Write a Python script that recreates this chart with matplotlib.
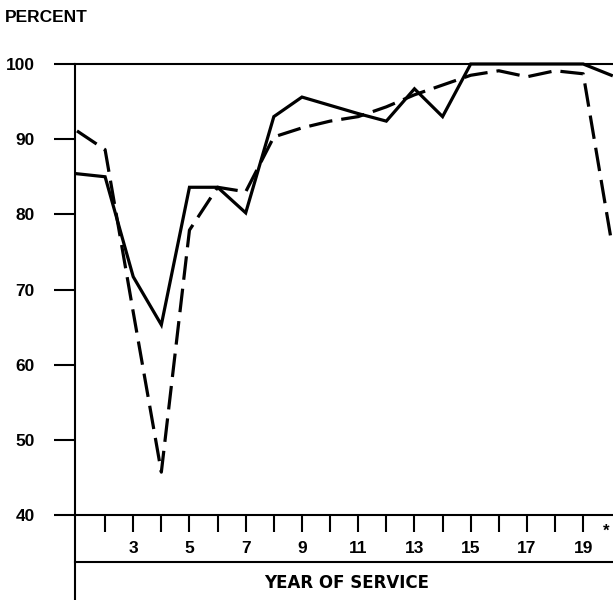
import matplotlib
matplotlib.use("Agg")
import matplotlib.pyplot as plt
from matplotlib.lines import Line2D

plt.rcParams["font.family"] = ["Liberation Sans", "DejaVu Sans"]
plt.rcParams["font.weight"] = "bold"
plt.rcParams["lines.scale_dashes"] = False

# Retention by year of service
years = list(range(1, 21))
solid_pct = [85.4, 85.0, 71.7, 65.3, 83.6, 83.6, 80.2, 93.0, 95.6, 94.5,
             93.4, 92.4, 96.7, 93.0, 100.0, 100.0, 100.0, 100.0, 100.0, 98.5]
dashed_pct = [91.1, 88.6, 67.0, 45.7, 77.9, 83.6, 83.0, 90.3, 91.5, 92.4,
              93.0, 94.3, 95.9, 97.2, 98.5, 99.1, 98.3, 99.1, 98.7, 76.5]

y_ticks = [40, 50, 60, 70, 80, 90, 100]
x_ticks = list(range(2, 20))
x_labels = [str(t) if t % 2 == 1 else "" for t in x_ticks]

W, H = 613, 600
fig = plt.figure(figsize=(W / 100, H / 100), dpi=100)
left_px, right_px, top_px, bot_px = 75, 613, 64, 515
ax = fig.add_axes([left_px / W, (H - bot_px) / H,
                   (right_px - left_px) / W, (bot_px - top_px) / H])

lw = 2.3
ax.plot(years, solid_pct, color="black", lw=lw, solid_joinstyle="miter",
        clip_on=False, zorder=3)
ax.plot(years, dashed_pct, color="black", lw=lw, dashes=(17, 6.5),
        dash_capstyle="butt", clip_on=True, zorder=3)

ax.set_xlim(0.93, 20.06)
ax.set_ylim(40, 100)

ax.spines["right"].set_visible(False)
for side in ("left", "bottom", "top"):
    ax.spines[side].set_linewidth(1.5)

ax.set_yticks(y_ticks)
ax.set_yticklabels([str(v) for v in y_ticks])
ax.tick_params(axis="y", direction="out", length=15, width=1.5,
               pad=14, labelsize=12.5)
ax.set_xticks(x_ticks)
ax.set_xticklabels(x_labels)
ax.tick_params(axis="x", direction="out", length=12, width=1.5,
               pad=7, labelsize=12.5)

ax.text(19.8, 37.8, "*", ha="center", va="center", fontsize=12,
        fontweight="bold", clip_on=False)

# Lower caption box: divider line and extended vertical axis
ax.add_line(Line2D([0, 1], [-0.104, -0.104], transform=ax.transAxes,
                   color="black", lw=1.5, clip_on=False))
ax.add_line(Line2D([0, 0], [0, -0.2], transform=ax.transAxes,
                   color="black", lw=1.5, clip_on=False))
ax.text(0.504, -0.151, "YEAR OF SERVICE", transform=ax.transAxes,
        ha="center", va="center", fontsize=12, fontweight="bold",
        family=["DejaVu Sans"])

fig.text(5 / W, 1 - 17 / H, "PERCENT", ha="left", va="center",
         fontsize=12.5, fontweight="bold")

fig.savefig("out.png", dpi=100)
